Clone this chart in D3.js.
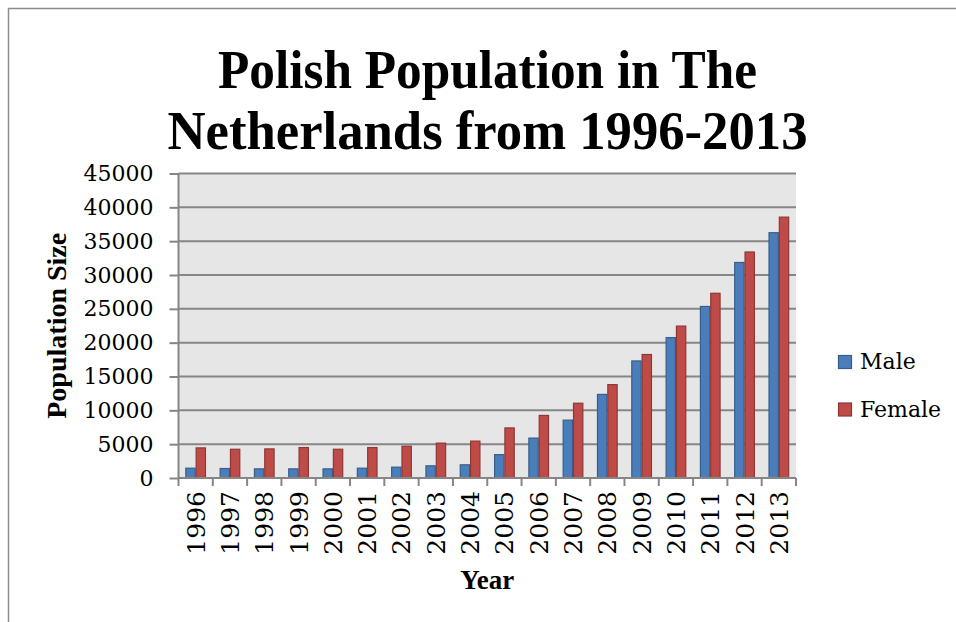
<!DOCTYPE html>
<html>
<head>
<meta charset="utf-8">
<script src="https://cdn.jsdelivr.net/npm/d3@7"></script>
<style>
  html, body { margin: 0; padding: 0; background: #fff; }
  svg { display: block; }
</style>
</head>
<body>
<svg id="chart" width="956" height="622"></svg>
<script>
const years = ["1996","1997","1998","1999","2000","2001","2002","2003","2004","2005","2006","2007","2008","2009","2010","2011","2012","2013"];
const seriesNames = ["Male", "Female"];
const maleValues = [1450,1400,1350,1350,1350,1450,1600,1800,1950,3450,5900,8550,12350,17300,20750,25350,31850,36250];
const femaleValues = [4450,4250,4300,4500,4250,4500,4700,5150,5450,7400,9250,11050,13800,18250,22450,27300,33400,38550];
const yTickValues = [0,5000,10000,15000,20000,25000,30000,35000,40000,45000];
const titleLines = ["Polish Population in The", "Netherlands from 1996-2013"];

const svg = d3.select("#chart");
const serif = "'DejaVu Serif', 'Liberation Serif', serif";
const serifBold = "'Liberation Serif', 'DejaVu Serif', serif";
const colors = { Male: { fill: "#4A7EBB", stroke: "#385D8A" }, Female: { fill: "#BE4B48", stroke: "#8C3836" } };

// outer frame
svg.append("rect").attr("x", 8.5).attr("y", 8.5).attr("width", 1000).attr("height", 700)
  .attr("fill", "none").attr("stroke", "#8c8c8c").attr("stroke-width", 1.5);

const plot = { left: 178.5, right: 796, top: 173.5, bottom: 478 };

const x = d3.scaleBand().domain(years).range([plot.left, plot.right]).paddingInner(0).paddingOuter(0);
const x1 = d3.scaleBand().domain(seriesNames).range([0, x.bandwidth()]).paddingInner(0).paddingOuter(0.66);
const y = d3.scaleLinear().domain([0, 45000]).range([plot.bottom, plot.top]);

// plot background
svg.append("rect").attr("x", plot.left).attr("y", plot.top)
  .attr("width", plot.right - plot.left).attr("height", plot.bottom - plot.top).attr("fill", "#E6E6E6");

// gridlines + y ticks
const yAxis = svg.append("g").attr("transform", `translate(${plot.left},0)`)
  .call(d3.axisLeft(y).tickValues(yTickValues).tickSize(9).tickFormat(d3.format("d")).tickPadding(16));
yAxis.select(".domain").remove();
yAxis.selectAll(".tick line").attr("stroke", "#868686").attr("stroke-width", 2);
yAxis.selectAll(".tick text").attr("font-family", serif).attr("font-size", 22).attr("fill", "#000");
svg.append("g").selectAll("line").data(yTickValues.slice(1)).join("line")
  .attr("x1", plot.left).attr("x2", plot.right)
  .attr("y1", d => y(d)).attr("y2", d => y(d))
  .attr("stroke", "#868686").attr("stroke-width", 2);

// bars
const groups = svg.append("g").selectAll("g").data(years).join("g")
  .attr("transform", d => `translate(${x(d)},0)`);
groups.selectAll("rect").data((d, i) => [
    { key: "Male", value: maleValues[i] },
    { key: "Female", value: femaleValues[i] }
  ]).join("rect")
  .attr("x", d => x1(d.key) + 0.5)
  .attr("width", x1.bandwidth() - 1)
  .attr("y", d => y(d.value))
  .attr("height", d => y(0) - y(d.value))
  .attr("fill", d => colors[d.key].fill)
  .attr("stroke", d => colors[d.key].stroke)
  .attr("stroke-width", 1.2);

// axis lines
svg.append("line").attr("x1", plot.left).attr("x2", plot.left).attr("y1", plot.top).attr("y2", plot.bottom)
  .attr("stroke", "#868686").attr("stroke-width", 2);
const xAxis = svg.append("g").attr("transform", `translate(0,${plot.bottom})`)
  .call(d3.axisBottom(x).tickSize(0).tickPadding(0));
xAxis.select(".domain").attr("stroke", "#868686").attr("stroke-width", 2).attr("d", `M${plot.left},0H${plot.right}`);
xAxis.selectAll(".tick text")
  .attr("font-family", serif).attr("font-size", 25).attr("fill", "#000")
  .attr("text-anchor", "end")
  .attr("transform", "rotate(-90)")
  .attr("x", -13).attr("y", 0).attr("dy", "0.36em");
// category boundary ticks
svg.append("g").selectAll("line").data(years.concat(["end"])).join("line")
  .attr("x1", (d, i) => i < years.length ? x(d) : plot.right)
  .attr("x2", (d, i) => i < years.length ? x(d) : plot.right)
  .attr("y1", plot.bottom).attr("y2", plot.bottom + 8)
  .attr("stroke", "#868686").attr("stroke-width", 2);

// title
const title = svg.append("g");
const titleY = [88, 149];
const titleW = [539, 640];
titleLines.forEach((t, i) => {
  title.append("text").text(t)
    .attr("x", 487.5).attr("y", titleY[i])
    .attr("text-anchor", "middle")
    .attr("font-family", serifBold).attr("font-weight", "bold").attr("font-size", 55)
    .attr("textLength", titleW[i]).attr("lengthAdjust", "spacingAndGlyphs")
    .attr("fill", "#000");
});

// axis titles
svg.append("text").text("Population Size")
  .attr("transform", `translate(66,${(plot.top + plot.bottom) / 2}) rotate(-90)`)
  .attr("text-anchor", "middle")
  .attr("font-family", serifBold).attr("font-weight", "bold").attr("font-size", 27)
  .attr("textLength", 186).attr("lengthAdjust", "spacingAndGlyphs")
  .attr("fill", "#000");
svg.append("text").text("Year")
  .attr("x", (plot.left + plot.right) / 2).attr("y", 589)
  .attr("text-anchor", "middle")
  .attr("font-family", serifBold).attr("font-weight", "bold").attr("font-size", 27).attr("fill", "#000");

// legend
const legend = svg.append("g").selectAll("g").data(seriesNames).join("g")
  .attr("transform", (d, i) => `translate(838,${355 + i * 47.5})`);
legend.append("rect").attr("x", 0.5).attr("y", 0.5).attr("width", 13).attr("height", 13)
  .attr("fill", d => colors[d].fill).attr("stroke", d => colors[d].stroke).attr("stroke-width", 1.2);
legend.append("text").text(d => d).attr("x", 22).attr("y", 14)
  .attr("font-family", serif).attr("font-size", 22).attr("fill", "#000");
</script>
</body>
</html>
